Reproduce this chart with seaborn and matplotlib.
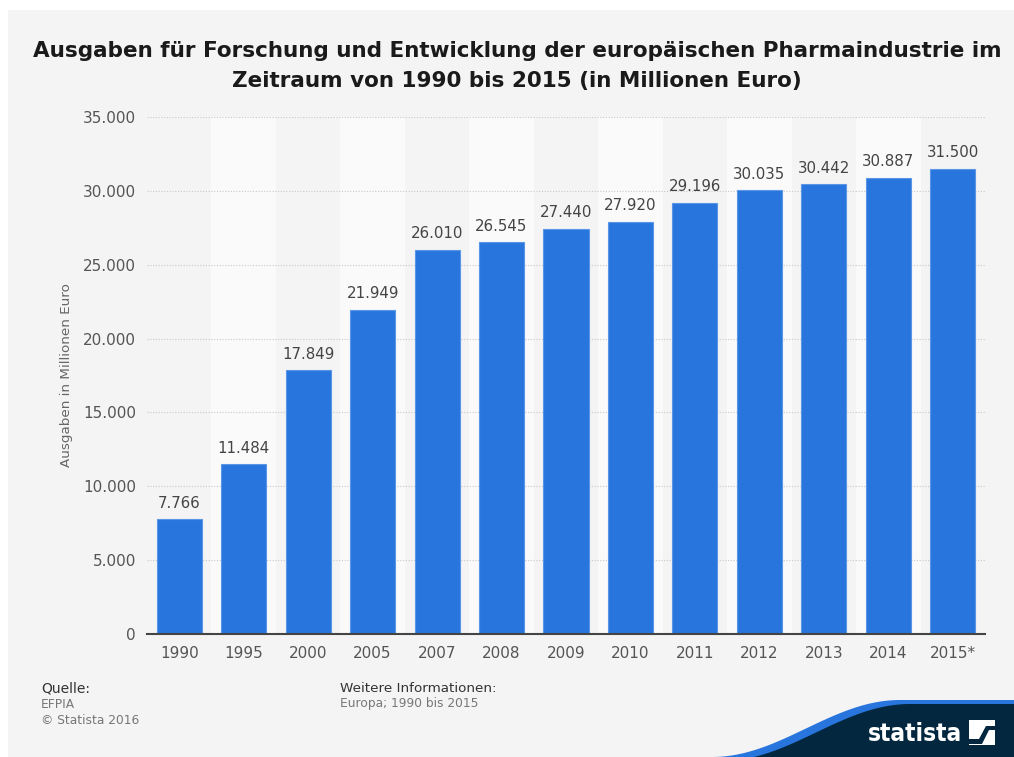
import matplotlib
matplotlib.use("Agg")
import matplotlib.pyplot as plt
import seaborn as sns
import numpy as np
import pandas as pd
from matplotlib.patches import Rectangle, Polygon
from matplotlib.ticker import FuncFormatter

# ---- data ----
years = ["1990", "1995", "2000", "2005", "2007", "2008", "2009", "2010",
         "2011", "2012", "2013", "2014", "2015*"]
spending = [7766, 11484, 17849, 21949, 26010, 26545, 27440, 27920,
            29196, 30035, 30442, 30887, 31500]
y_ticks = [0, 5000, 10000, 15000, 20000, 25000, 30000, 35000]

title = ("Ausgaben für Forschung und Entwicklung der europäischen Pharmaindustrie im\n"
         "Zeitraum von 1990 bis 2015 (in Millionen Euro)")
y_label = "Ausgaben in Millionen Euro"

sns.set_theme(style="white")
plt.rcParams['font.family'] = ['DejaVu Sans']

W, H = 1014, 757
fig = plt.figure(figsize=(W / 100, H / 100), dpi=100, facecolor="white")

def fx(px):
    return px / W

def fy(py):
    return 1 - py / H

# gray panel background
fig.patches.append(Rectangle((fx(8), 0), 1 - fx(8), fy(10), transform=fig.transFigure,
                             facecolor="#f4f4f4", edgecolor="none", zorder=-10))

left, right, top, bottom = 147, 985, 117, 634
ax = fig.add_axes([fx(left), fy(bottom), fx(right) - fx(left), fy(top) - fy(bottom)])
ax.set_facecolor("none")

df = pd.DataFrame({"year": years, "value": spending})
sns.barplot(data=df, x="year", y="value", color="#2876dd", width=0.7,
            edgecolor="#5a95e6", linewidth=0.8, saturation=1, ax=ax, zorder=3)

n = len(years)
ax.set_xlim(-0.5, n - 0.5)
ax.set_ylim(0, 35000)

# alternating column stripes
for i in range(n):
    if i % 2 == 1:
        ax.axvspan(i - 0.5, i + 0.5, color="#fafafa", zorder=0, lw=0)

# grid
ax.set_yticks(y_ticks)
ax.yaxis.grid(True, linestyle=(0, (1, 1.5)), color="#c8c8c8", linewidth=0.8, zorder=1)
ax.xaxis.grid(False)
ax.set_axisbelow(True)

ax.yaxis.set_major_formatter(FuncFormatter(lambda v, p: f"{int(v):,}".replace(",", ".")))
ax.tick_params(axis="y", length=0, pad=8, labelsize=11, labelcolor="#555555")
ax.tick_params(axis="x", length=0, pad=9, labelsize=11, labelcolor="#555555")

for s in ["top", "right", "left"]:
    ax.spines[s].set_visible(False)
ax.spines["bottom"].set_color("#444444")
ax.spines["bottom"].set_linewidth(1.5)
ax.spines["bottom"].set_zorder(5)

ax.set_xlabel("")
ax.set_ylabel(y_label, fontsize=9.7, color="#666666", labelpad=7)

# value labels
for i, v in enumerate(spending):
    ax.annotate(f"{v:,}".replace(",", "."), (i, v), xytext=(0, 6), textcoords="offset points",
                ha="center", va="bottom", fontsize=10.8, color="#444444", zorder=6)

# title
fig.text(fx(517), fy(66), title, ha="center", va="center", fontsize=15.5, fontweight="bold",
         color="#1a1a1a", linespacing=1.65)

# footer
fig.text(fx(41), fy(688), "Quelle:", fontsize=10, color="#333333", va="center")
fig.text(fx(41), fy(704), "EFPIA", fontsize=8.8, color="#777777", va="center")
fig.text(fx(41), fy(720), "© Statista 2016", fontsize=8.8, color="#777777", va="center")
fig.text(fx(340), fy(688), "Weitere Informationen:", fontsize=9.7, color="#333333", va="center")
fig.text(fx(340), fy(704), "Europa; 1990 bis 2015", fontsize=8.8, color="#777777", va="center")

# statista logo shape
t = np.linspace(0, 1, 80)
xs = 712 + t * 188
ys = 757 - (757 - 700) * (0.5 - 0.5 * np.cos(np.pi * t))
curve = list(zip(xs, ys)) + [(1014, 700)]
blue = curve + [(1014, 757), (712, 757)]
fig.patches.append(Polygon([(fx(a), fy(b)) for a, b in blue], closed=True,
                           transform=fig.transFigure, facecolor="#2876dd",
                           edgecolor="none", zorder=-5))
navy_curve = [(a + 10, b + 4) for a, b in curve[:-1]] + [(1014, 704)]
navy = navy_curve + [(1014, 757), (722, 757)]
fig.patches.append(Polygon([(fx(a), fy(b)) for a, b in navy], closed=True,
                           transform=fig.transFigure, facecolor="#02273f",
                           edgecolor="none", zorder=-4))
fig.text(fx(915), fy(734), "statista", ha="center", va="center", fontsize=17.5,
         fontweight="bold", color="white", fontstretch="condensed")
fig.patches.append(Rectangle((fx(969), fy(745)), fx(26), fy(720) - fy(745),
                             transform=fig.transFigure, facecolor="white",
                             edgecolor="none", zorder=2))
fig.patches.append(Polygon([(fx(a), fy(b)) for a, b in
                            [(969, 739), (979, 739), (986, 726), (995, 726),
                             (995, 730), (989, 730), (982, 744), (969, 744)]],
                           closed=True, transform=fig.transFigure,
                           facecolor="#02273f", edgecolor="none", zorder=3))

fig.savefig("out.png", dpi=100, facecolor=fig.get_facecolor())
